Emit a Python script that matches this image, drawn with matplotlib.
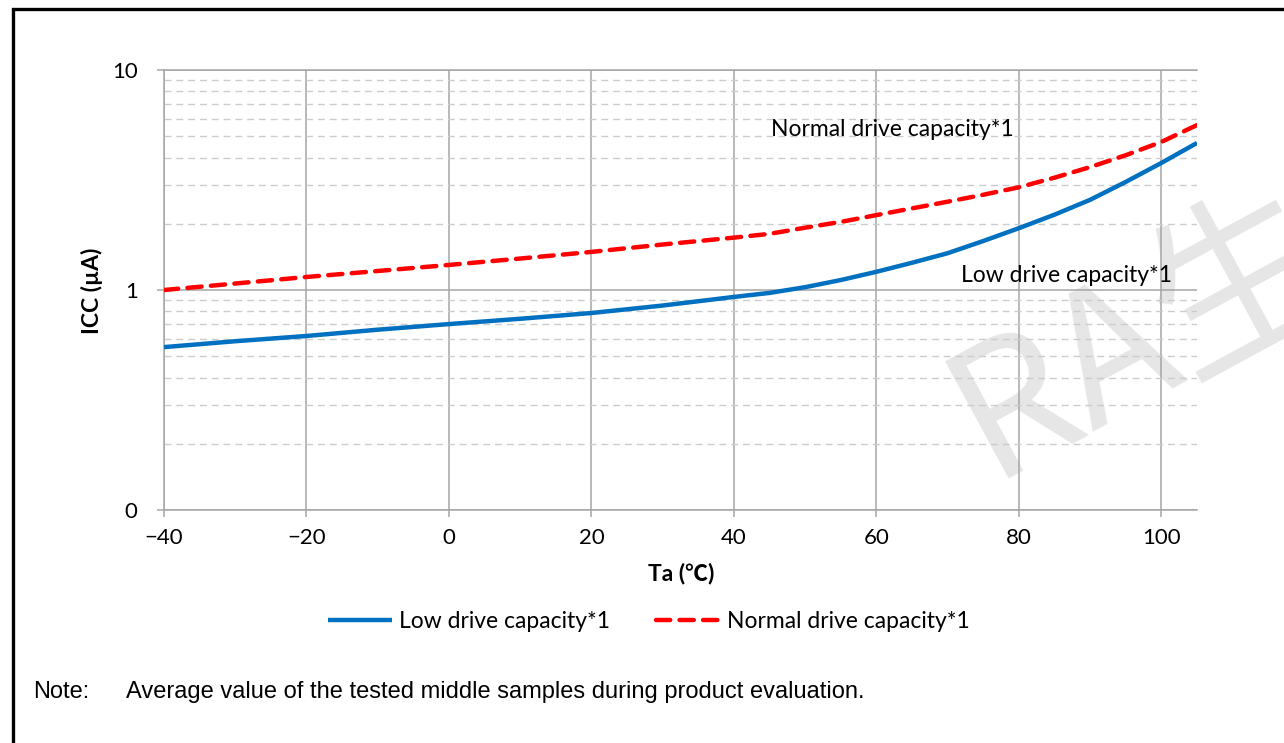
import numpy as np
import matplotlib
matplotlib.use("Agg")
import matplotlib.pyplot as plt
from matplotlib.patches import Rectangle
from matplotlib.ticker import FixedLocator, NullFormatter

# ── data ────────────────────────────────────────────
TEMP = [-40, -30, -20, -10, 0, 10, 20, 30, 40, 45, 50, 55, 60, 65, 70, 75,
        80, 85, 90, 95, 100, 105]
ICC_LOW = [0.55, 0.585, 0.618, 0.66, 0.70, 0.74, 0.786, 0.85, 0.93, 0.97,
           1.03, 1.11, 1.21, 1.33, 1.47, 1.67, 1.91, 2.20, 2.57, 3.10,
           3.78, 4.66]
ICC_NORMAL = [1.00, 1.07, 1.146, 1.22, 1.30, 1.39, 1.49, 1.61, 1.73, 1.80,
              1.92, 2.04, 2.19, 2.35, 2.52, 2.71, 2.93, 3.24, 3.62, 4.10,
              4.71, 5.62]
X_TICKS = [-40, -20, 0, 20, 40, 60, 80, 100]
Y_TICKS = [0.1, 1, 10]
Y_TICK_LABELS = ["0", "1", "10"]
LABEL_LOW = "Low drive capacity*1"
LABEL_NORMAL = "Normal drive capacity*1"
NOTE = "Average value of the tested middle samples during product evaluation."
# ────────────────────────────────────────────────────

W, H = 1284, 743
BLUE = "#0070C0"
RED = "#FF0000"
GRID = "#a6a6a6"
MINOR = "#cccccc"
CAL = ["Lato", "Noto Sans CJK JP", "DejaVu Sans"]
ARIAL = ["Liberation Sans", "DejaVu Sans"]
FS = 16.5

plt.rcParams["font.family"] = CAL

fig = plt.figure(figsize=(W / 100, H / 100), dpi=100)
ax = fig.add_axes([164 / W, 1 - 510 / H, (1197 - 164) / W, (510 - 70) / H])
ax.set_facecolor("none")

# watermark behind everything
fig.text(990 / W, 1 - 478 / H, "RA生", fontsize=130, color="#e6e6e6",
         rotation=28.5, rotation_mode="anchor", ha="left", va="baseline",
         family=["Noto Sans CJK SC", "DejaVu Sans"], zorder=-5)

ax.set_yscale("log")
ax.set_xlim(-40, 105)
ax.set_ylim(0.1, 10)

ax.xaxis.set_major_locator(FixedLocator(X_TICKS))
ax.yaxis.set_major_locator(FixedLocator(Y_TICKS))
ax.set_yticklabels(Y_TICK_LABELS)
minor = [m * 10.0 ** e for e in (-1, 0) for m in range(2, 10)]
ax.yaxis.set_minor_locator(FixedLocator(minor))
ax.yaxis.set_minor_formatter(NullFormatter())
ax.set_xticklabels([f"\u2212{abs(t)}" if t < 0 else str(t) for t in X_TICKS])

ax.grid(True, which="major", color=GRID, lw=1.1, ls="-")
ax.grid(True, which="minor", axis="y", color=MINOR, lw=1.0, ls=(0, (5, 3.5)))
ax.set_axisbelow(True)

ax.spines["right"].set_visible(False)
for s in ("left", "bottom", "top"):
    ax.spines[s].set_color(GRID)
    ax.spines[s].set_linewidth(1.1)
ax.tick_params(axis="both", which="major", length=5, width=1.1, color=GRID,
               labelsize=16, labelcolor="black")
ax.tick_params(axis="y", which="minor", length=0)
ax.tick_params(axis="x", pad=8)
ax.tick_params(axis="y", pad=14)

ax.plot(TEMP, ICC_LOW, color=BLUE, lw=3.2, solid_capstyle="butt",
        solid_joinstyle="round", label=LABEL_LOW, zorder=4)
ax.plot(TEMP, ICC_NORMAL, color=RED, lw=3.2, ls=(0, (3.2, 2.1)),
        dash_capstyle="round", label=LABEL_NORMAL, zorder=5)

ax.text(45.2, 5.34, LABEL_NORMAL, fontsize=FS, ha="left", va="center")
ax.text(71.9, 1.16, LABEL_LOW, fontsize=FS, ha="left", va="center")

fig.text(92 / W, 1 - 291 / H, "ICC (µA)", fontsize=FS, fontweight="bold",
         rotation=90, ha="center", va="center")
fig.text(681 / W, 1 - 573 / H, "Ta (℃)", fontsize=FS, fontweight="bold",
         ha="center", va="center")

fig.legend(loc="center", bbox_to_anchor=(649 / W, 1 - 622 / H), ncol=2,
           frameon=False, fontsize=FS, handlelength=2.8, handletextpad=0.3,
           columnspacing=2.0)

fig.text(33 / W, 1 - 692 / H, "Note:", fontsize=17, family=ARIAL,
         ha="left", va="center")
fig.text(126 / W, 1 - 692 / H, NOTE, fontsize=17, family=ARIAL,
         ha="left", va="center")

# page frame (left and top edges visible)
fig.patches.append(Rectangle((13 / W, -0.2), 2.0, 1.2 - 9 / H,
                             transform=fig.transFigure, fill=False,
                             ec="black", lw=2.4, zorder=10))

fig.savefig("out.png", dpi=100)
